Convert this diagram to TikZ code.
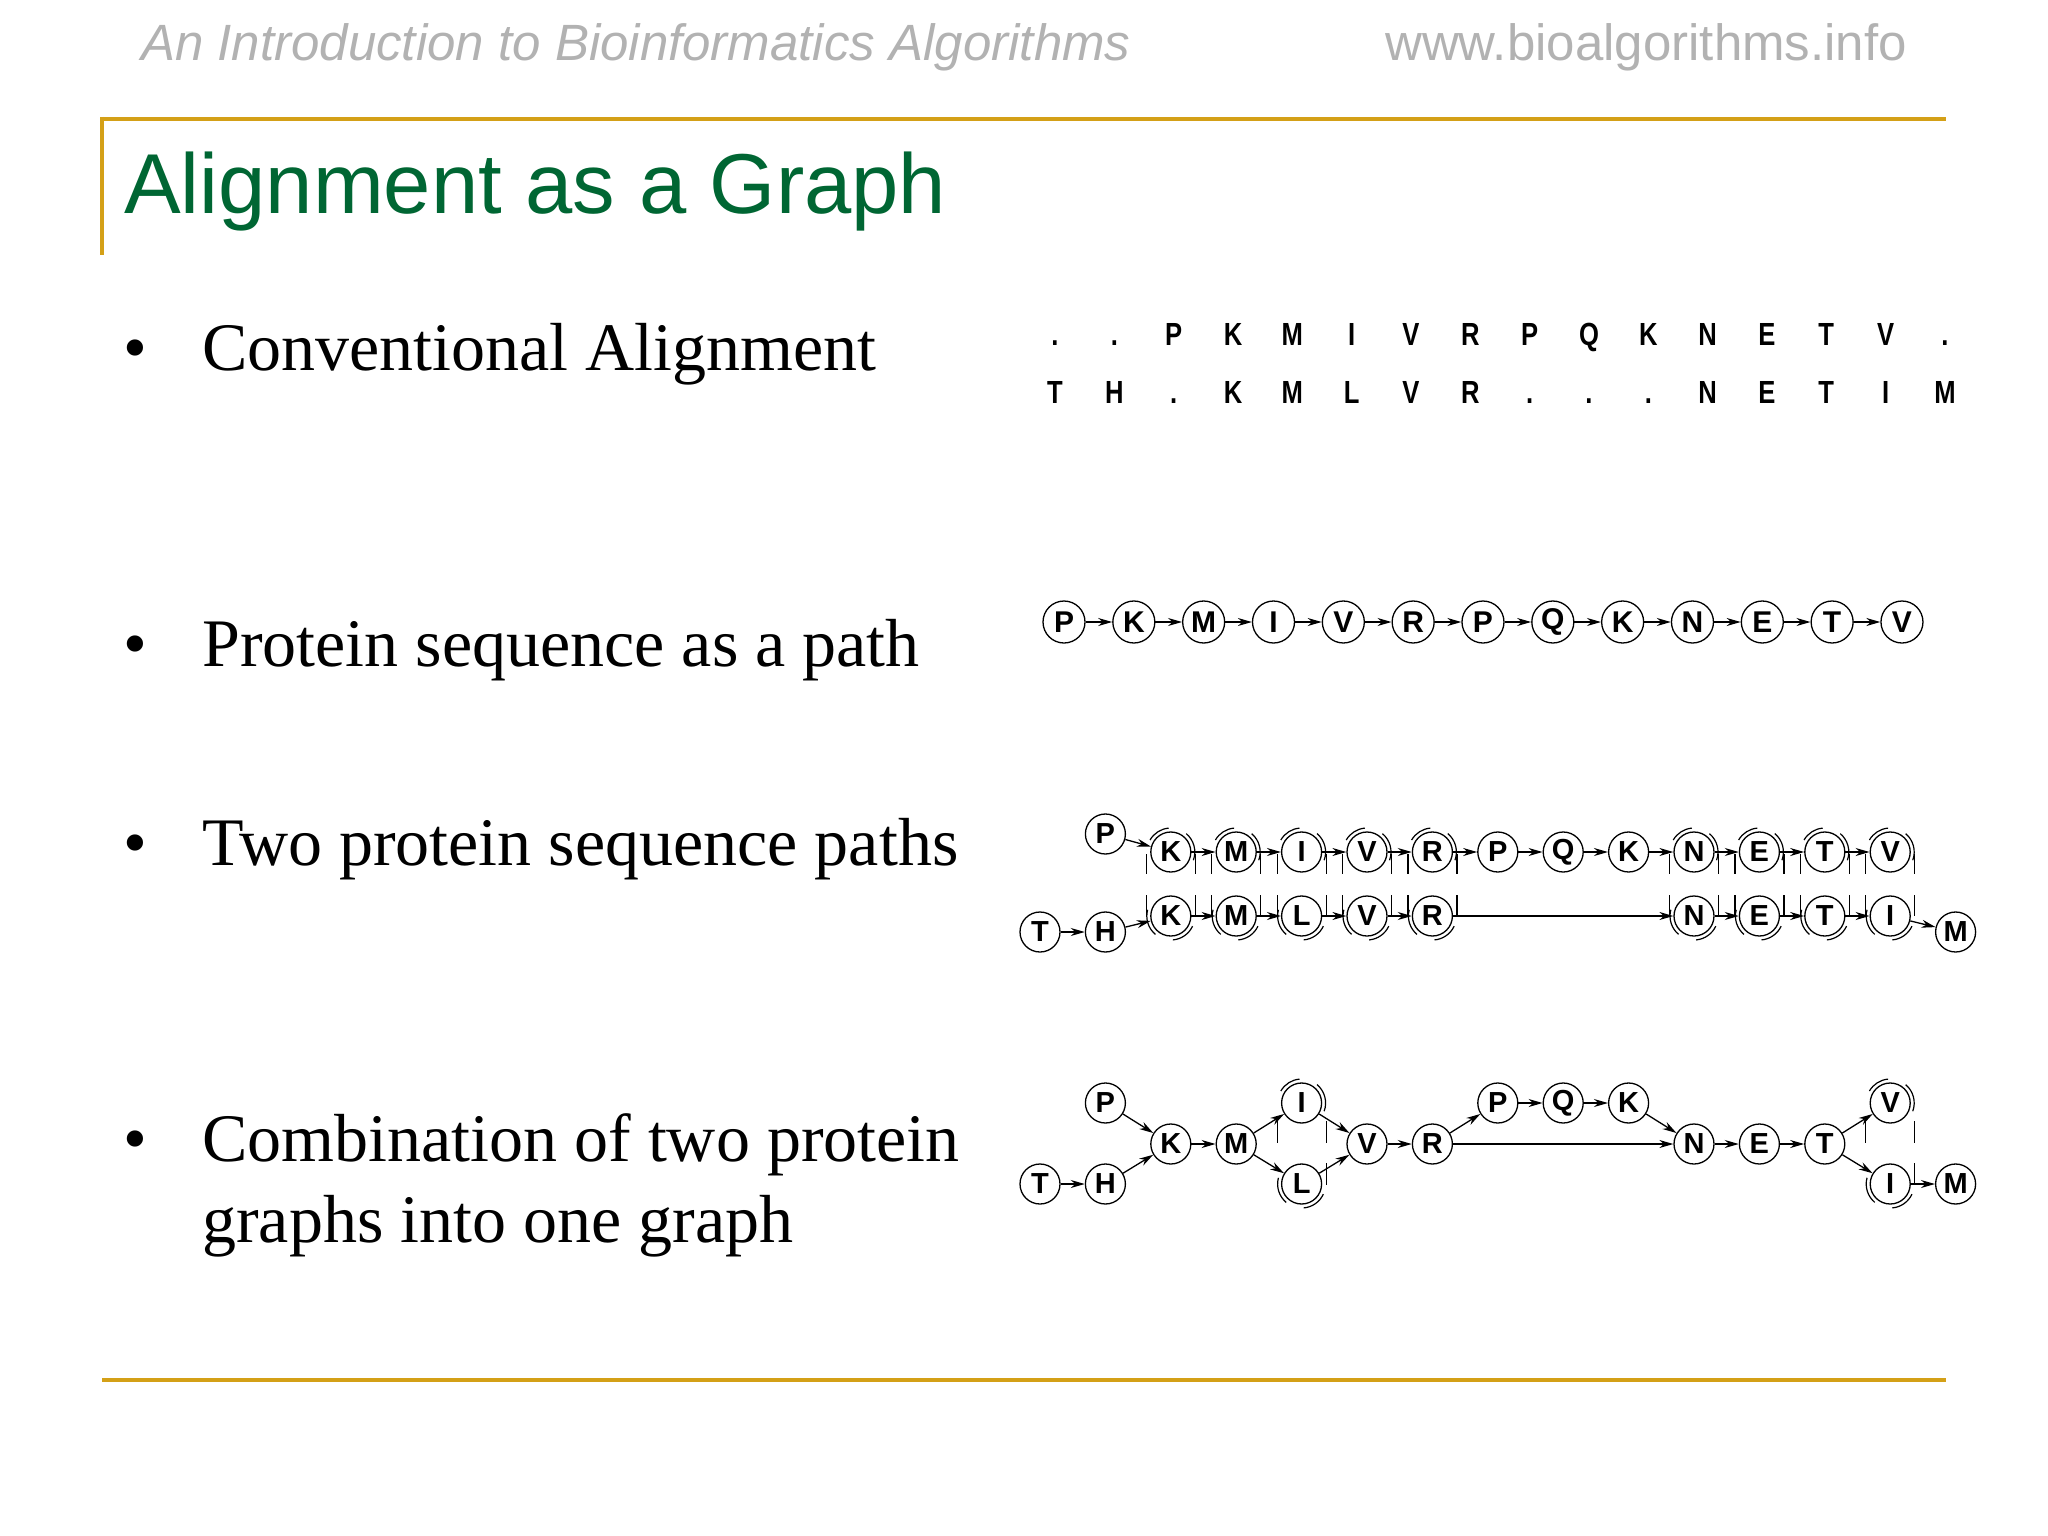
\documentclass[tikz,border=0pt]{standalone}
\usepackage{fontspec}
\setmainfont{Liberation Serif}
\setsansfont{Liberation Sans}
\usetikzlibrary{arrows.meta,calc}
\definecolor{gold}{RGB}{212,160,23}
\definecolor{titlegreen}{RGB}{0,102,51}
\definecolor{hdrgray}{RGB}{178,178,178}
\tikzset{
  res/.style={circle,draw,line width=1.3pt,minimum size=40pt,inner sep=0pt,
    font=\fontsize{29}{29}\selectfont\sffamily\bfseries},
  resbig/.style={res,minimum size=42pt,font=\fontsize{30}{30}\selectfont\sffamily\bfseries},
  edge/.style={line width=1.3pt,-{Stealth[length=14pt,width=8pt,inset=4.5pt]}},
  tick/.style={line width=1.2pt},
  ring/.style={line width=1.2pt},
  alet/.style={anchor=base,inner sep=0pt,font=\fontsize{32}{32}\selectfont\sffamily\bfseries},
  bodytext/.style={anchor=base west,inner sep=0pt,font=\fontsize{68}{68}\selectfont},
  bulletmark/.style={anchor=base,inner sep=0pt,font=\fontsize{68}{68}\selectfont},
  goldrule/.style={gold,line width=4pt},
  topdeco/.pic={
    \draw[ring] (95:24) arc[start angle=95,end angle=150,radius=24];
    \draw[ring] (-20:24) arc[start angle=-20,end angle=50,radius=24];
  },
  botdeco/.pic={
    \draw[ring] (165:24) arc[start angle=165,end angle=230,radius=24];
    \draw[ring] (-85:24) arc[start angle=-85,end angle=-25,radius=24];
  },
}
\begin{document}
\begin{tikzpicture}[x=1pt,y=-1pt]
\useasboundingbox[fill=white] (0,0) rectangle (2048,1536);
% header
\node[anchor=base west,inner sep=0pt,text=hdrgray,font=\fontsize{51}{51}\selectfont\sffamily\itshape] (hl) at (141,61) {An Introduction to Bioinformatics Algorithms};
\node[anchor=base east,inner sep=0pt,text=hdrgray,font=\fontsize{51}{51}\selectfont\sffamily] (hr) at (1907,61) {www.bioalgorithms.info};
\draw[goldrule] (102,119) -- (1946,119);
\draw[goldrule] (102,117) -- (102,255);
\draw[goldrule] (102,1380) -- (1946,1380);
\node[anchor=base west,inner sep=0pt,text=titlegreen,font=\fontsize{85}{85}\selectfont\sffamily] (title) at (124,213) {Alignment as a Graph};
% bullets
\node[bulletmark] (b1) at (135,370) {•};
\node[bodytext] (t1) at (202,370) {Conventional Alignment};
\node[bulletmark] (b2) at (135,666) {•};
\node[bodytext] (t2) at (202,666) {Protein sequence as a path};
\node[bulletmark] (b3) at (135,865) {•};
\node[bodytext] (t3) at (202,865) {Two protein sequence paths};
\node[bulletmark] (b4) at (135,1161) {•};
\node[bodytext] (t4) at (202,1161) {Combination of two protein};
\node[bodytext] (t5) at (202,1242) {graphs into one graph};
% conventional alignment
\foreach \l [count=\i from 0] in {.,.,P,K,M,I,V,R,P,Q,K,N,E,T,V,.}
  \node[alet] (ra\i) at ({1055+59.33*\i},345) {\scalebox{0.8}[1]{\l}};
\foreach \l [count=\i from 0] in {T,H,.,K,M,L,V,R,.,.,.,N,E,T,I,M}
  \node[alet] (rb\i) at ({1055+59.33*\i},403) {\scalebox{0.8}[1]{\l}};
% protein path
\foreach \l [count=\i from 0] in {P,K,M,I,V,R,P,Q,K,N,E,T,V}
  \node[resbig] (a\i) at ({1064+69.83*\i},622) {\l};
\foreach \i [evaluate=\i as \j using int(\i+1)] in {0,...,11}
  \draw[edge] (a\i) -- (a\j);
% two paths
\foreach \c/\l in {2/K,3/M,4/I,5/V,6/R,7/P,8/Q,9/K,10/N,11/E,12/T,13/V}
  \node[res] (t\c) at ({1040+65.4*\c},852) {\l};
\foreach \c/\l in {2/K,3/M,4/L,5/V,6/R,10/N,11/E,12/T,13/I}
  \node[res] (u\c) at ({1040+65.4*\c},916) {\l};
\node[res] (tP) at ({1040+65.4},834) {P};
\node[res] (uT) at (1040,932) {T};
\node[res] (uH) at ({1040+65.4},932) {H};
\node[res] (uM) at ({1040+65.4*14},932) {M};
\draw[edge] (tP) -- (t2);
\foreach \c [evaluate=\c as \d using int(\c+1)] in {2,...,12}
  \draw[edge] (t\c) -- (t\d);
\draw[edge] (uT) -- (uH);
\draw[edge] (uH) -- (u2);
\foreach \c [evaluate=\c as \d using int(\c+1)] in {2,...,5}
  \draw[edge] (u\c) -- (u\d);
\draw[edge] (u6) -- (u10);
\foreach \c [evaluate=\c as \d using int(\c+1)] in {10,...,12}
  \draw[edge] (u\c) -- (u\d);
\draw[edge] (u13) -- (uM);
\foreach \c in {2,3,4,5,6,10,11,12,13}{
  \draw[tick] ([shift={(-24.5,2)}]t\c.center) -- ([shift={(-24.5,22)}]t\c.center);
  \draw[tick] ([shift={(24.5,2)}]t\c.center) -- ([shift={(24.5,22)}]t\c.center);
  \draw[tick] ([shift={(-24.5,-21)}]u\c.center) -- ([shift={(-24.5,0)}]u\c.center);
  \draw[tick] ([shift={(24.5,-21)}]u\c.center) -- ([shift={(24.5,0)}]u\c.center);
  \pic[y=1pt] at (t\c.center) {topdeco};
  \pic[y=1pt] at (u\c.center) {botdeco};
}
% combined graph
\node[res] (cP1) at ({1040+65.4},1103) {P};
\node[res] (cT0) at (1040,1184) {T};
\node[res] (cH) at ({1040+65.4},1184) {H};
\node[res] (cK) at ({1040+65.4*2},1144) {K};
\node[res] (cM) at ({1040+65.4*3},1144) {M};
\node[res] (cI) at ({1040+65.4*4},1103) {I};
\node[res] (cL) at ({1040+65.4*4},1184) {L};
\node[res] (cV) at ({1040+65.4*5},1144) {V};
\node[res] (cR) at ({1040+65.4*6},1144) {R};
\node[res] (cP2) at ({1040+65.4*7},1103) {P};
\node[res] (cQ) at ({1040+65.4*8},1103) {Q};
\node[res] (cK2) at ({1040+65.4*9},1103) {K};
\node[res] (cN) at ({1040+65.4*10},1144) {N};
\node[res] (cE) at ({1040+65.4*11},1144) {E};
\node[res] (cT) at ({1040+65.4*12},1144) {T};
\node[res] (cV2) at ({1040+65.4*13},1103) {V};
\node[res] (cI2) at ({1040+65.4*13},1184) {I};
\node[res] (cM2) at ({1040+65.4*14},1184) {M};
\draw[edge] (cP1) -- (cK);
\draw[edge] (cT0) -- (cH);
\draw[edge] (cH) -- (cK);
\draw[edge] (cK) -- (cM);
\draw[edge] (cM) -- (cI);
\draw[edge] (cM) -- (cL);
\draw[edge] (cI) -- (cV);
\draw[edge] (cL) -- (cV);
\draw[edge] (cV) -- (cR);
\draw[edge] (cR) -- (cP2);
\draw[edge] (cR) -- (cN);
\draw[edge] (cP2) -- (cQ);
\draw[edge] (cQ) -- (cK2);
\draw[edge] (cK2) -- (cN);
\draw[edge] (cN) -- (cE);
\draw[edge] (cE) -- (cT);
\draw[edge] (cT) -- (cV2);
\draw[edge] (cT) -- (cI2);
\draw[edge] (cI2) -- (cM2);
\foreach \n in {cI,cV2}{
  \draw[tick] ([shift={(-24.5,14)}]\n.center) -- ([shift={(-24.5,40)}]\n.center);
  \draw[tick] ([shift={(24.5,18)}]\n.center) -- ([shift={(24.5,40)}]\n.center);
  \pic[y=1pt] at (\n.center) {topdeco};
}
\foreach \n in {cL,cI2}{
  \draw[tick] ([shift={(24.5,-21)}]\n.center) -- ([shift={(24.5,1)}]\n.center);
  \pic[y=1pt] at (\n.center) {botdeco};
}
\end{tikzpicture}
\end{document}
